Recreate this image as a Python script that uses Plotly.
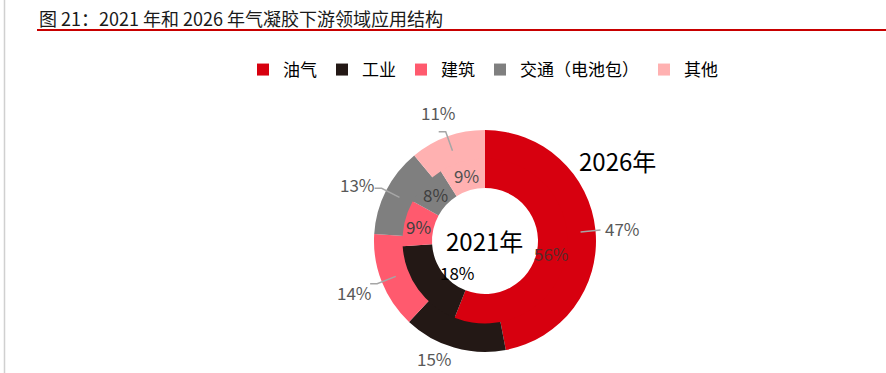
import math
import plotly.graph_objects as go

# ---- data ----
categories = ["油气", "工业", "建筑", "交通（电池包）", "其他"]
values_2021 = [56, 18, 9, 8, 9]
values_2026 = [47, 15, 14, 13, 11]
colors = ["#D7000F", "#231815", "#FF5A6E", "#7F7F7F", "#FFB1B1"]
title_text = "图 21：2021 年和 2026 年气凝胶下游领域应用结构"

# ---- layout geometry (pixels) ----
W, H = 886, 373
CX, CY = 485, 241
R_OUT, R_MID, R_HOLE = 111, 81, 53

FONT_CN = "Noto Sans CJK SC"


def dom(r):
    return dict(x=[(CX - r) / W, (CX + r) / W],
                y=[1 - (CY + r) / H, 1 - (CY - r) / H])


def to_paper(r, theta_deg):
    t = math.radians(theta_deg)
    px = CX + r * math.sin(t)
    py = CY - r * math.cos(t)
    return px / W, 1 - py / H, px, py


def mid_angles(vals):
    tot = sum(vals)
    out, c = [], 0
    for v in vals:
        out.append((c + v / 2) / tot * 360)
        c += v
    return out


fig = go.Figure()
fig.add_trace(go.Pie(
    labels=categories, values=values_2026, sort=False, direction="clockwise",
    rotation=0, hole=R_MID / R_OUT, domain=dom(R_OUT),
    marker=dict(colors=colors, line=dict(width=0)),
    textinfo="none", hoverinfo="label+percent", name="2026年",
))
R_IN_DRAW = R_MID + 1.5
fig.add_trace(go.Pie(
    labels=categories, values=values_2021, sort=False, direction="clockwise",
    rotation=0, hole=R_HOLE / R_IN_DRAW, domain=dom(R_IN_DRAW),
    marker=dict(colors=colors, line=dict(width=0)),
    textinfo="none", hoverinfo="label+percent", name="2021年", showlegend=False,
))

annotations = []
shapes = []

# outer labels with leader lines
outer_r_text = [138, 128, 140, 140, 137]
outer_ang_off = [0, 7, 0, -3, 0]
outer_leader = [True, False, True, True, True]
for v, th, rt, ao, ld in zip(values_2026, mid_angles(values_2026),
                             outer_r_text, outer_ang_off, outer_leader):
    x, y, _, _ = to_paper(rt, th + ao)
    annotations.append(dict(x=x, y=y, xref="paper", yref="paper", text=f"{v}%",
                            xanchor="center", yanchor="middle",
                            showarrow=False, font=dict(size=17, color="#595959",
                                                       family=FONT_CN)))
    if ld:
        _, _, x1, y1 = to_paper(96, th)
        _, _, x2, y2 = to_paper(116, th)
        side = 1 if math.sin(math.radians(th)) > 0 else -1
        stub = 0 if abs(math.sin(math.radians(th))) > 0.98 else 7
        x3 = x2 + side * stub
        path = f"M{x1/W},{1-y1/H} L{x2/W},{1-y2/H} L{x3/W},{1-y2/H}"
        shapes.append(dict(type="path", xref="paper", yref="paper", path=path,
                           line=dict(color="#A6A6A6", width=1.5)))

# inner labels
inner_r_text = [68, 42, 68, 68, 68]
inner_ang_off = [0, -13, 0, 0, 0]
inner_colors = ["#5a2a2a", "#000000", "#404040", "#404040", "#505050"]
for v, th, rt, ao, col in zip(values_2021, mid_angles(values_2021),
                              inner_r_text, inner_ang_off, inner_colors):
    x, y, _, _ = to_paper(rt, th + ao)
    annotations.append(dict(x=x, y=y, xref="paper", yref="paper", text=f"{v}%",
                            xanchor="center", yanchor="middle",
                            showarrow=False, font=dict(size=17, color=col,
                                                       family=FONT_CN)))

# ring labels
annotations.append(dict(x=617 / W, y=1 - 160 / H, xref="paper", yref="paper",
                        xanchor="center", yanchor="middle",
                        text="2026年", showarrow=False,
                        font=dict(size=24, color="#000000", family=FONT_CN)))
annotations.append(dict(x=CX / W, y=1 - 240 / H, xref="paper", yref="paper",
                        xanchor="center", yanchor="middle",
                        text="2021年", showarrow=False,
                        font=dict(size=24, color="#000000", family=FONT_CN)))

# title
annotations.append(dict(x=37 / W, y=1 - 18 / H, xref="paper", yref="paper",
                        xanchor="left", yanchor="middle", text=title_text,
                        showarrow=False,
                        font=dict(size=18, color="#1a1a1a", family=FONT_CN)))
shapes.append(dict(type="line", xref="paper", yref="paper",
                   x0=37 / W, x1=1, y0=1 - 30 / H, y1=1 - 30 / H,
                   line=dict(color="#C80000", width=2)))
shapes.append(dict(type="line", xref="paper", yref="paper",
                   x0=4.5 / W, x1=4.5 / W, y0=0, y1=1,
                   line=dict(color="#D0D0D0", width=1.5)))

fig.update_layout(
    width=W, height=H,
    margin=dict(l=0, r=0, t=0, b=0),
    paper_bgcolor="white", plot_bgcolor="white",
    annotations=annotations, shapes=shapes,
    showlegend=True,
    legend=dict(orientation="h", x=483 / W, xanchor="center",
                y=1 - 70 / H, yanchor="middle",
                font=dict(size=17, color="#000000", family=FONT_CN),
                itemwidth=30, tracegroupgap=0),
)

fig.write_html("out.html",
               config={"displayModeBar": False},
               post_script="document.body.style.margin='0px';"
                           "document.body.style.overflow='hidden';")
